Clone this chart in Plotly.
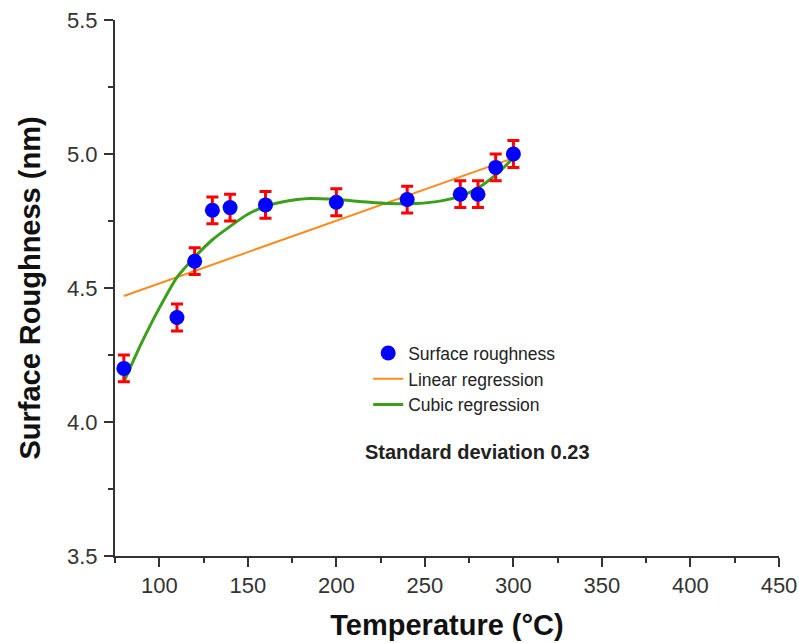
import plotly.graph_objects as go

# Measured data
temperature = [80, 110, 120, 130, 140, 160, 200, 240, 270, 280, 290, 300]
roughness = [4.20, 4.39, 4.60, 4.79, 4.80, 4.81, 4.82, 4.83, 4.85, 4.85, 4.95, 5.00]
roughness_err = [0.05] * 12

# Linear regression
linear_x = [80, 300]
linear_y = [4.47, 4.985]

# Cubic regression curve
cubic_x = [80, 90, 100, 110, 120, 130, 140, 150, 160, 170, 185, 200, 215, 230, 245, 260, 270, 280, 290, 300]
cubic_y = [4.15, 4.295, 4.425, 4.54, 4.615, 4.68, 4.73, 4.775, 4.805, 4.822, 4.834, 4.83, 4.822, 4.815, 4.815,
           4.826, 4.843, 4.873, 4.922, 4.985]

x_ticks = [100, 150, 200, 250, 300, 350, 400, 450]
y_ticks = [3.5, 4.0, 4.5, 5.0, 5.5]

FONT = "Arial, Liberation Sans, sans-serif"
AXIS_COLOR = "#333333"

W, H = 799, 643
PL, PR, PT, PB = 114.7, 779, 20, 555.7

fig = go.Figure()

fig.add_trace(go.Scatter(
    x=linear_x, y=linear_y, mode="lines", name="Linear regression", legendrank=2,
    line=dict(color="#FF8A1E", width=2),
))
fig.add_trace(go.Scatter(
    x=cubic_x, y=cubic_y, mode="lines", name="Cubic regression", legendrank=3,
    line=dict(color="#3AA01A", width=3, shape="spline", smoothing=0.6),
))
fig.add_trace(go.Scatter(
    x=temperature, y=roughness, mode="markers", name="Surface roughness", legendrank=1,
    marker=dict(color="#0000FF", size=15, line=dict(width=0)),
    error_y=dict(type="data", array=roughness_err, visible=True, color="#FF0000", thickness=3, width=6),
))

pw, ph = PR - PL, PB - PT

fig.update_layout(
    width=W, height=H,
    margin=dict(l=PL, r=W - PR, t=PT, b=H - PB, pad=0),
    paper_bgcolor="white", plot_bgcolor="white",
    font=dict(family=FONT, color="#222222"),
    showlegend=True,
    legend=dict(
        x=(368 - PL) / pw, y=(PB - 335) / ph, xanchor="left", yanchor="top",
        bgcolor="rgba(0,0,0,0)", font=dict(size=17.5, family=FONT, color="#222222"),
        itemwidth=30, tracegroupgap=0,
    ),
    annotations=[dict(
        x=(477 - PL) / pw, y=(PB - 452) / ph, xref="paper", yref="paper",
        xanchor="center", yanchor="middle",
        text="<b>Standard deviation 0.23</b>", showarrow=False,
        font=dict(size=20, family=FONT, color="#222222"),
    )],
)

fig.update_xaxes(
    range=[75, 450], tickvals=x_ticks, ticktext=[str(v) for v in x_ticks],
    showgrid=False, zeroline=False, showline=True, linecolor=AXIS_COLOR, linewidth=2,
    ticks="outside", ticklen=9, tickwidth=2, tickcolor=AXIS_COLOR,
    minor=dict(tickvals=[75, 125, 175, 225, 275, 325, 375, 425], ticks="outside", ticklen=5, tickwidth=2, tickcolor=AXIS_COLOR),
    tickfont=dict(size=22, family=FONT, color="#333333"),
    title=dict(text="<b>Temperature (°C)</b>", font=dict(size=29, family=FONT, color="#111111"), standoff=17),
    ticklabelstandoff=0, automargin=False, ticklabeloverflow="allow",
)
fig.update_yaxes(
    range=[3.5, 5.5], tickvals=y_ticks, ticktext=["%.1f" % v for v in y_ticks],
    showgrid=False, zeroline=False, showline=True, linecolor=AXIS_COLOR, linewidth=2,
    ticks="outside", ticklen=9, tickwidth=2, tickcolor=AXIS_COLOR,
    minor=dict(tickvals=[3.75, 4.25, 4.75, 5.25], ticks="outside", ticklen=5, tickwidth=2, tickcolor=AXIS_COLOR),
    tickfont=dict(size=22, family=FONT, color="#333333"),
    title=dict(text="<b>Surface Roughness (nm)</b>", font=dict(size=29, family=FONT, color="#111111"), standoff=18),
    ticklabelstandoff=2, automargin=False, ticklabeloverflow="allow",
)

fig.write_html("out.html", config={"displayModeBar": False},
               post_script="document.body.style.margin='0px';")
